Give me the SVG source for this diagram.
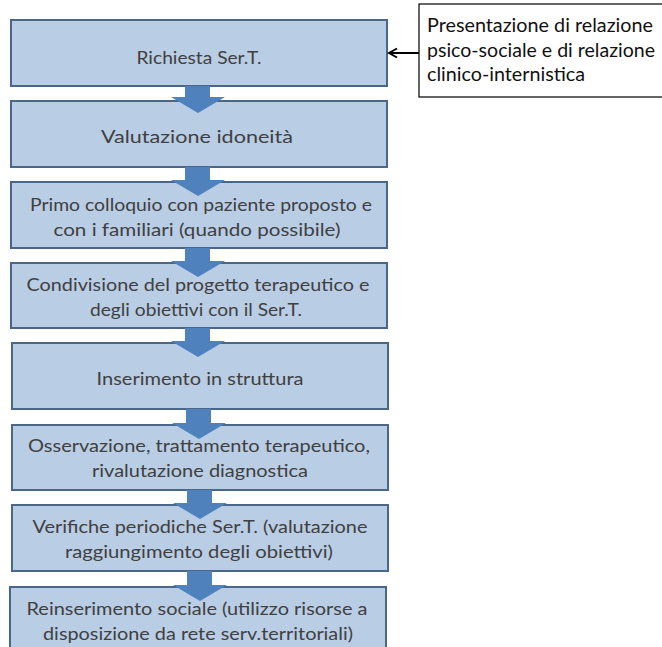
<svg xmlns="http://www.w3.org/2000/svg" width="662" height="647" viewBox="0 0 662 647">
<style>
.box{fill:#b9cde5;stroke:#4a6689;stroke-width:2}
.t{font-family:Lato,"Liberation Sans",sans-serif;font-size:17.5px;fill:#404040;text-anchor:middle}
.n{font-family:Lato,"Liberation Sans",sans-serif;font-size:19.5px;fill:#111}
.arr{fill:#4f81bd}
</style>
<defs>
<marker id="open" markerWidth="12" markerHeight="12" refX="10" refY="6" orient="auto" markerUnits="userSpaceOnUse">
<path d="M2,1.5 L10,6 L2,10.5" fill="none" stroke="#000" stroke-width="2"/>
</marker>
</defs>
<rect width="662" height="647" fill="#fff"/>
<g id="node-note">
<rect x="419" y="4" width="260" height="93" fill="#fff" stroke="#000" stroke-width="1.2"/>
<text class="n" x="427" y="32" textLength="226" lengthAdjust="spacingAndGlyphs">Presentazione di relazione</text>
<text class="n" x="427" y="57" textLength="228" lengthAdjust="spacingAndGlyphs">psico-sociale e di relazione</text>
<text class="n" x="427" y="81" textLength="158" lengthAdjust="spacingAndGlyphs">clinico-internistica</text>
</g>
<g id="node-1">
<rect class="box" x="11" y="20" width="376" height="66"/>
<text class="t" x="199" y="64" textLength="125" lengthAdjust="spacingAndGlyphs">Richiesta Ser.T.</text>
</g>
<g id="node-2">
<rect class="box" x="11" y="101" width="376" height="66"/>
<text class="t" x="197" y="143" textLength="192" lengthAdjust="spacingAndGlyphs">Valutazione idoneità</text>
</g>
<g id="node-3">
<rect class="box" x="11" y="182" width="376" height="66"/>
<text class="t" x="201" y="211" textLength="342" lengthAdjust="spacingAndGlyphs">Primo colloquio con paziente proposto e</text>
<text class="t" x="197" y="236" textLength="287" lengthAdjust="spacingAndGlyphs">con i familiari (quando possibile)</text>
</g>
<g id="node-4">
<rect class="box" x="11" y="263" width="376" height="65"/>
<text class="t" x="198" y="291" textLength="343" lengthAdjust="spacingAndGlyphs">Condivisione del progetto terapeutico e</text>
<text class="t" x="196" y="316" textLength="212" lengthAdjust="spacingAndGlyphs">degli obiettivi con il Ser.T.</text>
</g>
<g id="node-5">
<rect class="box" x="12" y="343" width="376" height="66"/>
<text class="t" x="200" y="385" textLength="207" lengthAdjust="spacingAndGlyphs">Inserimento in struttura</text>
</g>
<g id="node-6">
<rect class="box" x="12" y="425" width="376" height="65"/>
<text class="t" x="199" y="452" textLength="342" lengthAdjust="spacingAndGlyphs">Osservazione, trattamento terapeutico,</text>
<text class="t" x="200" y="477" textLength="216" lengthAdjust="spacingAndGlyphs">rivalutazione diagnostica</text>
</g>
<g id="node-7">
<rect class="box" x="12" y="505" width="376" height="66"/>
<text class="t" x="200" y="533" textLength="335" lengthAdjust="spacingAndGlyphs">Verifiche periodiche Ser.T. (valutazione</text>
<text class="t" x="199" y="558" textLength="268" lengthAdjust="spacingAndGlyphs">raggiungimento degli obiettivi)</text>
</g>
<g id="node-8">
<rect class="box" x="10" y="587" width="376" height="75"/>
<text class="t" x="197" y="615" textLength="341" lengthAdjust="spacingAndGlyphs">Reinserimento sociale (utilizzo risorse a</text>
<text class="t" x="198" y="640" textLength="310" lengthAdjust="spacingAndGlyphs">disposizione da rete serv.territoriali)</text>
</g>
<g id="connectors">
<line x1="419" y1="53" x2="389" y2="53" stroke="#000" stroke-width="2" marker-end="url(#open)"/>
<path class="arr" d="M185,86 L210,86 L210,97 L225,97 L198,113 L171,97 L185,97 Z"/>
<path class="arr" d="M185,167 L210,167 L210,180 L225,180 L198,196 L171,180 L185,180 Z"/>
<path class="arr" d="M185,248 L210,248 L210,261 L225,261 L198,277 L171,261 L185,261 Z"/>
<path class="arr" d="M185,328 L210,328 L210,341 L225,341 L198,357 L171,341 L185,341 Z"/>
<path class="arr" d="M186,409 L211,409 L211,423 L226,423 L199,439 L172,423 L186,423 Z"/>
<path class="arr" d="M187,490 L212,490 L212,503 L227,503 L200,519 L173,503 L187,503 Z"/>
<path class="arr" d="M187,571 L212,571 L212,585 L227,585 L200,601 L173,585 L187,585 Z"/>
</g>
</svg>
